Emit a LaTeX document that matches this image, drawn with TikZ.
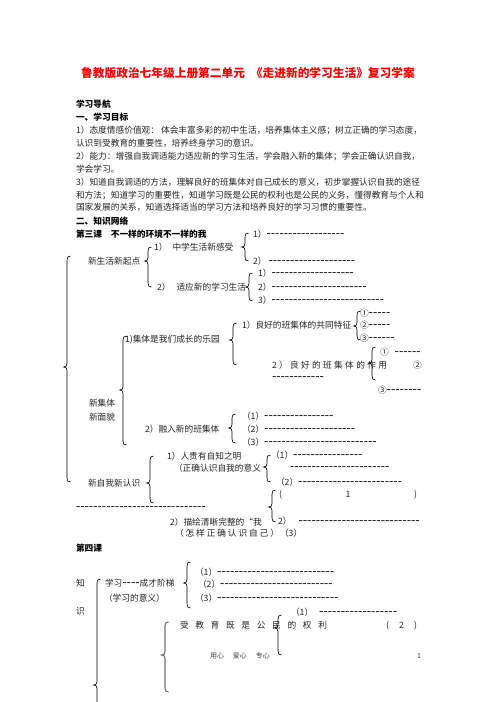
\documentclass[tikz,border=0pt]{standalone}
\usepackage{fontspec}
\setmainfont{Noto Sans CJK SC}
\newfontfamily\dfont{Liberation Sans}
\ExplSyntaxOn
\NewDocumentCommand\dsh{m}{{\dfont\fontsize{13pt}{13pt}\selectfont\prg_replicate:nn{#1}{-{}}}}
\ExplSyntaxOff
\newcommand{\fs}{\fontsize{8.7pt}{10pt}\selectfont}
\newcommand{\brc}[5][]{%
  \draw[brc,#1] (#2+3.5,#3) .. controls (#2+1,#3) and (#2,#3+1.2) .. (#2,#3+4)
   -- (#2,#5-3.5) .. controls (#2,#5-1) and (#2-1,#5) .. (#2-3.5,#5)
   .. controls (#2-1,#5) and (#2,#5+1) .. (#2,#5+3.5)
   -- (#2,#4-4) .. controls (#2,#4-1.2) and (#2+1,#4) .. (#2+3.5,#4);}
\tikzset{
  tx/.style={anchor=west, inner sep=0pt, outer sep=0pt, font=\fs, text=black!85, text height=7.6pt, text depth=1pt},
  hd/.style={tx, font=\fs\bfseries, text=black},
  brc/.style={draw=black, line width=0.6pt},
}
\begin{document}
\begin{tikzpicture}[x=1pt,y=-1pt]
\useasboundingbox (0,0) rectangle (496,702);
\fill[white] (0,0) rectangle (496,702);
\clip (0,0) rectangle (496,702);
% title and header
\node[font=\fontsize{11.7pt}{14pt}\selectfont\bfseries, text=red, inner sep=0pt] (title) at (248,73) {鲁教版政治七年级上册第二单元\hspace{6pt}《走进新的学习生活》复习学案};
\node[hd] (h1) at (76,104) {学习导航};
\node[hd] (h2) at (76,117) {一、学习目标};
\node[tx] (l1) at (76,130) {1）态度情感价值观： 体会丰富多彩的初中生活，培养集体主义感；树立正确的学习态度，};
\node[tx] (l2) at (76,143) {认识到受教育的重要性，培养终身学习的意识。};
\node[tx] (l3) at (76,156) {2）能力：增强自我调适能力适应新的学习生活，学会融入新的集体；学会正确认识自我，};
\node[tx] (l4) at (76,169) {学会学习。};
\node[tx] (l5) at (76,182) {3）知道自我调适的方法，理解良好的班集体对自己成长的意义，初步掌握认识自我的途径};
\node[tx] (l6) at (76,195) {和方法；知道学习的重要性，知道学习既是公民的权利也是公民的义务，懂得教育与个人和};
\node[tx] (l7) at (76,207) {国家发展的关系，知道选择适当的学习方法和培养良好的学习习惯的重要性。};
\node[hd] (h3) at (76,221) {二、知识网络};
\node[hd] (h4) at (76,234) {第三课　不一样的环境不一样的我};
% lesson 3 network
\node[tx] (a1) at (253,234) {1）\dsh{18}};
\node[tx] (a2) at (253,261) {2）\hspace{2pt}\dsh{20}};
\node[tx] (b) at (154,247) {1）\hspace{5pt}中学生活新感受};
\node[tx] (c) at (88,261) {新生活新起点};
\node[tx] (d) at (157,287) {2）\hspace{6pt}适应新的学习生活};
\node[tx] (e1) at (258,273) {1）\dsh{19}};
\node[tx] (e2) at (258,287) {2）\dsh{22}};
\node[tx] (e3) at (258,300) {3）\dsh{26}};
\node[tx] (f) at (242,325) {1）良好的班集体的共同特征};
\node[tx] (g1) at (360,313) {①\dsh{5}};
\node[tx] (g2) at (360,325) {②\dsh{5}};
\node[tx] (g3) at (360,338) {③\dsh{6}};
\node[tx] (h) at (125,339) {1)集体是我们成长的乐园};
\node[tx] (i) at (272,365) {\makebox[115pt][s]{2\hfill ）\hfill 良\hfill 好\hfill 的\hfill 班\hfill 集\hfill 体\hfill 的\hfill 作\hfill 用}};
\node[tx] (i2) at (413,365) {②};
\node[tx] (i3) at (272,377) {\dsh{12}};
\node[tx] (j1) at (380,352) {①\hspace{6pt}\dsh{6}};
\node[tx] (j3) at (378,390) {③\dsh{8}};
\node[tx] (k1) at (89,403) {新集体};
\node[tx] (k2) at (89,417) {新面貌};
\node[tx] (m) at (145,429) {2）融入新的班集体};
\node[tx] (n1) at (242,416) {（1）\dsh{16}};
\node[tx] (n2) at (242,429) {（2）\dsh{21}};
\node[tx] (n3) at (242,442) {（3）\dsh{26}};
\node[tx] (o) at (167,456) {1）人贵有自知之明};
\node[tx] (p) at (174,468) {（正确认识自我的意义};
\node[tx] (q) at (88,483) {新自我新认识};
\node[tx] (r1) at (271,455) {（1）\dsh{16}};
\node[tx] (r2) at (290,467) {\dsh{23}};
\node[tx] (r3) at (276,482) {（2）\dsh{24}};
\node[tx] (s) at (279,494) {\makebox[138pt][s]{(\hfill 1\hfill )}};
\node[tx] (t) at (76,507) {\dsh{30}};
\node[tx] (u) at (170,522) {2）描绘清晰完整的“我};
\node[tx] (v) at (278,521) {2）\hspace{7pt}\dsh{28}};
\node[tx] (w) at (175,533) {\makebox[104pt][s]{（\hfill 怎\hfill 样\hfill 正\hfill 确\hfill 认\hfill 识\hfill 自\hfill 己\hfill ）}};
\node[tx] (w3) at (280,533) {（3）};
% lesson 4
\node[hd] (x) at (76,548) {第四课};
\node[tx] (y1) at (76,583) {知};
\node[tx] (y2) at (76,611) {识};
\node[tx] (z) at (105,583) {学习\dsh{4}成才阶梯};
\node[tx] (z2) at (104,598) {（学习的意义）};
\node[tx] (aa1) at (195,572) {（1）\dsh{27}};
\node[tx] (aa2) at (198,584) {（2）\dsh{26}};
\node[tx] (aa3) at (195,598) {（3）\dsh{28}};
\node[tx] (bb) at (180,625) {\makebox[147pt][s]{受\hfill 教\hfill 育\hfill 既\hfill 是\hfill 公\hfill 民\hfill 的\hfill 权\hfill 利}};
\node[tx] (bb2) at (386,625) {\makebox[31pt][s]{(\hfill 2\hfill )}};
\node[tx] (cc) at (291,612) {（1）\hspace{6pt}\dsh{18}};
% footer
\node[tx, font=\fontsize{7pt}{8pt}\selectfont, text=black!75] (ft) at (210,655) {用心\hspace{9pt}爱心\hspace{9pt}专心};
\node[tx, font=\fontsize{7pt}{8pt}\selectfont, text=black!75] (pg) at (417,655) {1};
% braces
\brc{245}{233}{261}{247}
\brc{148}{247}{287}{261}
\brc{67}{256}{482}{367}
\brc{249}{273}{301}{287}
\brc{233}{323}{365}{340}
\brc{357}{311}{340}{326}
\brc{123}{336}{445}{390}
\brc{372}{347}{380}{363}
\brc{232}{414}{443}{428}
\brc{150}{456}{503}{483}
\brc{267}{455}{482}{467}
\brc{272}{490}{522}{507}
\brc{187}{562}{608}{583}
\brc{97}{579}{790}{685}
\brc[line width=1.1pt, draw=black!55]{165}{622}{692}{655}
\brc{278}{615}{655}{628}
\end{tikzpicture}
\end{document}
